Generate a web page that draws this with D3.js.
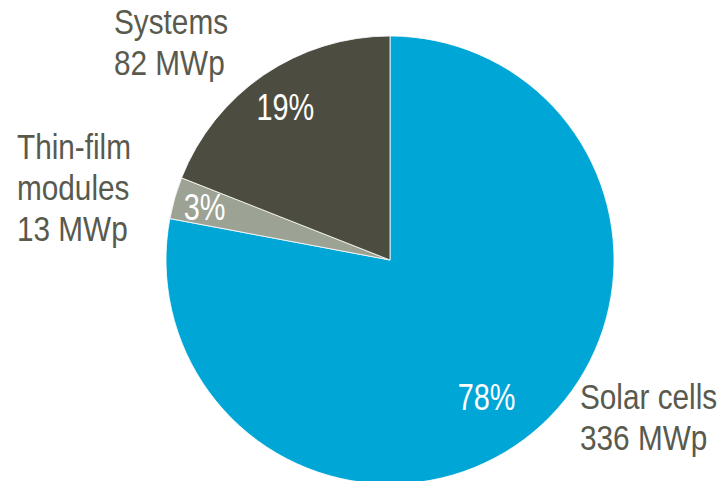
<!DOCTYPE html>
<html>
<head>
<meta charset="utf-8">
<script src="https://cdn.jsdelivr.net/npm/d3@7"></script>
<style>
  html, body { margin: 0; padding: 0; background: #fff; }
  svg { display: block; }
  text { font-family: "Liberation Sans Narrow", "Arial Narrow", "Liberation Sans", Arial, sans-serif; }
</style>
</head>
<body>
<svg id="chart" width="722" height="481"></svg>
<script>
// Production by product segment (MWp)
const categories = ["Solar cells", "Thin-film modules", "Systems"];
const values = [336, 13, 82];
const nameLines = [["Solar cells"], ["Thin-film", "modules"], ["Systems"]];
const colors = ["#00A6D6", "#9DA394", "#4D4C41"];

const W = 722, H = 481;
const cx = 390, cy = 260, R = 224;
const narrowName = 0.85;  // horizontal condensing of the category type
const narrowPct = 0.78;   // horizontal condensing of the percentage type

const svg = d3.select("#chart");
const g = svg.append("g").attr("transform", `translate(${cx},${cy})`);

const pie = d3.pie().sort(null).value(d => d)(values);
const arc = d3.arc().innerRadius(0).outerRadius(R);
const total = d3.sum(values);

g.selectAll("path.slice")
  .data(pie)
  .join("path")
  .attr("class", "slice")
  .attr("d", arc)
  .attr("fill", (d, i) => colors[i])
  .attr("stroke", "#ffffff")
  .attr("stroke-width", 0.8);

// percentage labels inside slices: per-slice radius plus a small nudge
const pctRadius = [167, 193, 186];
const pctNudge = [[-10, 8], [0, 0], [0, 0]];
g.selectAll("text.pct")
  .data(pie)
  .join("text")
  .attr("class", "pct")
  .attr("transform", (d, i) => {
    const c = d3.arc().innerRadius(pctRadius[i]).outerRadius(pctRadius[i]).centroid(d);
    return `translate(${c[0] + pctNudge[i][0]},${c[1] + pctNudge[i][1]}) scale(${narrowPct},1)`;
  })
  .attr("text-anchor", "middle")
  .attr("dy", "0.36em")
  .attr("fill", "#ffffff")
  .style("font-size", "37px")
  .text(d => Math.round(d.value / total * 100) + "%");

// outside category labels
const labelPos = [[580, 409], [17, 159], [114, 34]];
const lineH = 41;
categories.forEach((c, i) => {
  const lines = nameLines[i].concat([values[i] + " MWp"]);
  const t = svg.append("text")
    .attr("transform", `translate(${labelPos[i][0]},${labelPos[i][1]}) scale(${narrowName},1)`)
    .attr("fill", "#595A4E")
    .style("font-size", "35px");
  lines.forEach((l, k) => {
    t.append("tspan").attr("x", 0).attr("y", k * lineH).text(l);
  });
});
</script>
</body>
</html>
